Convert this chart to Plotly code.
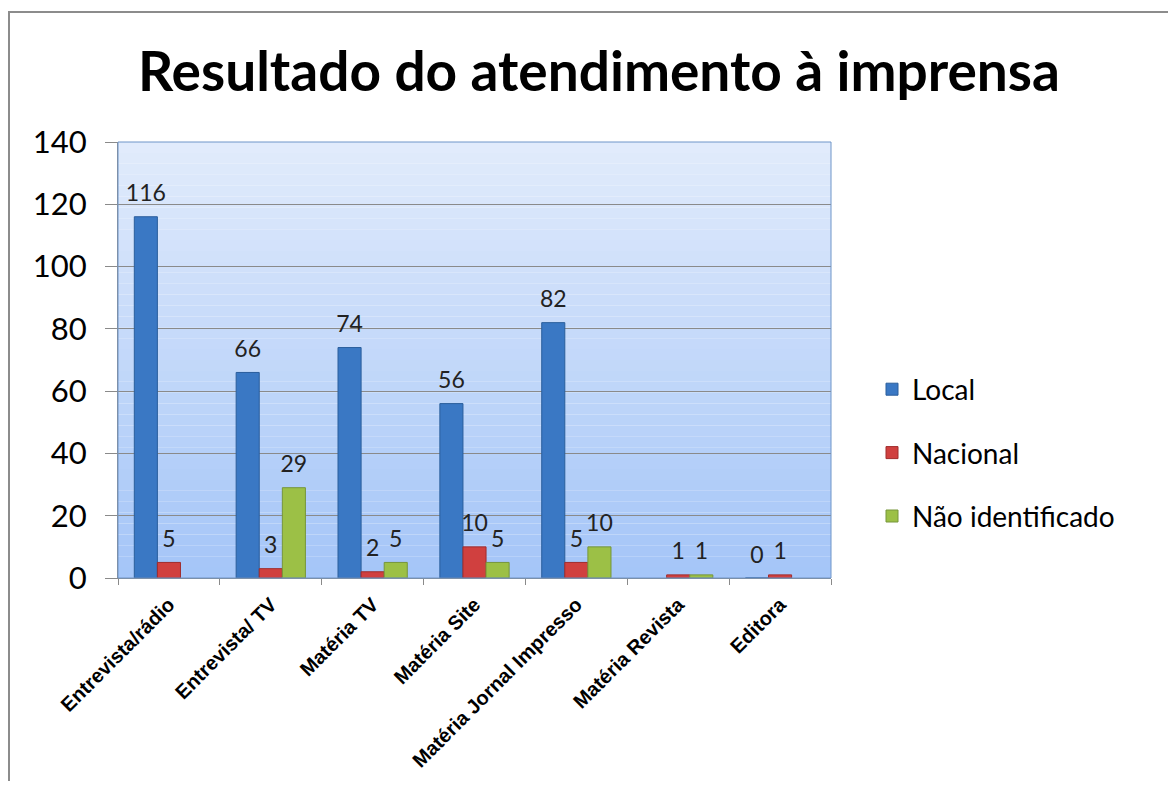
import plotly.graph_objects as go

categories = ["Entrevista/rádio", "Entrevista/ TV", "Matéria TV", "Matéria Site",
              "Matéria Jornal Impresso", "Matéria Revista", "Editora"]
local = [116, 66, 74, 56, 82, None, 0]
nacional = [5, 3, 2, 10, 5, 1, 1]
nao_ident = [None, 29, 5, 5, 10, 1, None]
series_names = ["Local", "Nacional", "Não identificado"]
colors = ["#3a78c4", "#d0403f", "#9cc046"]
line_colors = ["#2a5e9c", "#a02c2c", "#76963a"]

OFF = 8  # page body margin
W, H = 1176 - 2 * OFF, 789 - 2 * OFF
ml, mt = 118 - OFF, 142 - OFF
pw, ph = 831 - 118, 578 - 142
mr = W - ml - pw
mb = H - mt - ph

fig = go.Figure()
for i, (name, vals) in enumerate(zip(series_names, [local, nacional, nao_ident])):
    fig.add_trace(go.Bar(
        x=categories, y=vals, name=name,
        marker=dict(color=colors[i], line=dict(color=line_colors[i], width=1)),
        text=[("" if v is None else f"<span style='font-size:23px'>{v}</span><br> ") for v in vals],
        textposition="outside", cliponaxis=False, constraintext="none",
        textfont=dict(family="Lato, Open Sans, sans-serif", size=8, color="#222"),
        legendgroup=name,
    ))

# gradient background strips
shapes = []
n = 40
top = (225, 235, 252)
bot = (165, 198, 248)
for k in range(n):
    t = k / (n - 1)
    c = tuple(int(top[j] + (bot[j] - top[j]) * t) for j in range(3))
    shapes.append(dict(type="rect", xref="x domain", yref="y domain",
                       x0=0, x1=1, y0=1 - (k + 1) / n, y1=1 - k / n,
                       fillcolor=f"rgb{c}", line=dict(width=0), layer="below"))
shapes.append(dict(type="rect", xref="x domain", yref="y domain", x0=0, x1=1, y0=0, y1=1,
                   line=dict(color="#6f95c8", width=1), layer="above"))
# outer chart border (page coords: left 9, top 12)
def px_x(x):
    return (x - OFF - ml) / pw
def px_y(y):
    return 1 - (y - OFF - mt) / ph
shapes.append(dict(type="rect", xref="paper", yref="paper",
                   x0=px_x(9), x1=px_x(1200), y0=px_y(810), y1=px_y(12),
                   line=dict(color="#8c8c8c", width=2), layer="above"))

fig.update_layout(
    width=W, height=H,
    margin=dict(l=ml, r=mr, t=mt, b=mb, autoexpand=False),
    paper_bgcolor="white", plot_bgcolor="rgba(0,0,0,0)",
    barmode="group", bargap=0.32, bargroupgap=0,
    title=dict(text="<b>Resultado do atendimento à imprensa</b>",
               font=dict(family="Lato, Open Sans, sans-serif", size=55, color="black"),
               x=(599 - OFF) / W, xref="container", xanchor="center",
               y=1 - (72 - OFF) / H, yref="container", yanchor="middle"),
    shapes=shapes,
    legend=dict(x=px_x(872), xanchor="left", xref="paper", y=px_y(453), yanchor="middle",
                font=dict(family="Lato, Open Sans, sans-serif", size=28, color="black"),
                tracegroupgap=24, bgcolor="rgba(0,0,0,0)", traceorder="grouped"),
    yaxis=dict(range=[0, 140], dtick=20, showgrid=True, gridcolor="#8a8a8a", gridwidth=1,
               ticks="outside", ticklen=12, tickcolor="#8a8a8a", ticklabelstandoff=12,
               automargin=False,
               tickfont=dict(family="Lato, Open Sans, sans-serif", size=31, color="black"),
               showline=True, linecolor="#8a8a8a", zeroline=False),
    xaxis=dict(tickangle=-45, tickson="boundaries", ticks="outside", ticklen=6,
               tickcolor="#8a8a8a", showline=True, linecolor="#8a8a8a", ticklabelstandoff=6,
               automargin=False,
               tickfont=dict(family="Liberation Sans, Arial, sans-serif", size=20,
                             color="black", weight="bold"),
               ),
)
fig.write_html("out.html")
